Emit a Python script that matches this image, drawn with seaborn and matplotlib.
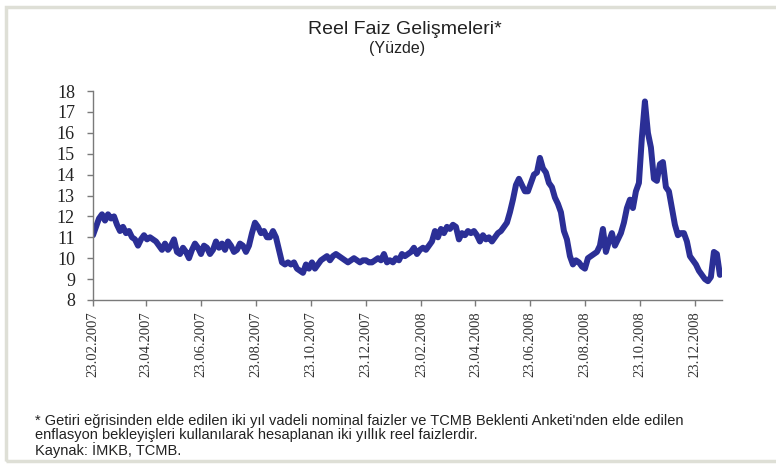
import numpy as np
import pandas as pd
import matplotlib
matplotlib.use("Agg")
import matplotlib.pyplot as plt
import matplotlib.dates as mdates
from matplotlib.patches import Rectangle
import seaborn as sns

# ---- data ----
start_date = "2007-02-23"
sample_step = "80h"  # approx. spacing of the readings
reel_faiz = [
    11.1, 11.5, 11.9, 12.1, 11.8, 12.1, 11.9, 12.0, 11.6, 11.3,
    11.5, 11.2, 11.3, 11.0, 10.9, 10.6, 10.9, 11.1, 10.9, 11.0,
    10.9, 10.8, 10.6, 10.4, 10.7, 10.4, 10.6, 10.9, 10.3, 10.2,
    10.5, 10.3, 10.0, 10.4, 10.7, 10.5, 10.2, 10.6, 10.5, 10.2,
    10.4, 10.8, 10.5, 10.7, 10.4, 10.8, 10.6, 10.3, 10.4, 10.7,
    10.6, 10.3, 10.6, 11.2, 11.7, 11.5, 11.2, 11.3, 11.0, 11.0,
    11.3, 11.0, 10.4, 9.8, 9.7, 9.8, 9.7, 9.8, 9.5, 9.4,
    9.3, 9.7, 9.5, 9.8, 9.5, 9.7, 9.9, 10.0, 10.1, 9.9,
    10.1, 10.2, 10.1, 10.0, 9.9, 9.8, 9.9, 10.0, 9.9, 9.8,
    9.9, 9.9, 9.8, 9.8, 9.9, 10.0, 9.9, 10.2, 9.8, 9.9,
    9.8, 10.0, 9.9, 10.2, 10.1, 10.2, 10.3, 10.5, 10.2, 10.4,
    10.5, 10.4, 10.6, 10.8, 11.3, 11.0, 11.4, 11.2, 11.5, 11.4,
    11.6, 11.5, 10.9, 11.2, 11.1, 11.3, 11.2, 11.3, 11.1, 10.8,
    11.1, 10.9, 11.0, 10.8, 11.0, 11.2, 11.3, 11.5, 11.7, 12.2,
    12.8, 13.5, 13.8, 13.5, 13.2, 13.2, 13.6, 14.0, 14.1, 14.8,
    14.3, 14.1, 13.6, 13.4, 12.9, 12.6, 12.2, 11.3, 10.9, 10.1,
    9.7, 9.9, 9.8, 9.6, 9.5, 10.0, 10.1, 10.2, 10.3, 10.6,
    11.4, 10.3, 10.8, 11.2, 10.6, 10.9, 11.2, 11.7, 12.4, 12.8,
    12.4, 13.2, 13.6, 15.8, 17.5, 16.0, 15.3, 13.8, 13.7, 14.5,
    14.6, 13.4, 13.2, 12.4, 11.6, 11.1, 11.2, 11.2, 10.8, 10.1,
    9.9, 9.7, 9.4, 9.2, 9.0, 8.9, 9.1, 10.3, 10.2, 9.2,
]
tick_dates = ["2007-02-23", "2007-04-23", "2007-06-23", "2007-08-23",
              "2007-10-23", "2007-12-23", "2008-02-23", "2008-04-23",
              "2008-06-23", "2008-08-23", "2008-10-23", "2008-12-23"]
y_ticks = [8, 9, 10, 11, 12, 13, 14, 15, 16, 17, 18]

title = "Reel Faiz Gelişmeleri*"
subtitle = "(Yüzde)"
footnote = ("* Getiri eğrisinden elde edilen iki yıl vadeli nominal faizler ve TCMB Beklenti Anketi'nden elde edilen\n"
            "enflasyon bekleyişleri kullanılarak hesaplanan iki yıllık reel faizlerdir.\n"
            "Kaynak: İMKB, TCMB.")

dates = pd.date_range(start=start_date, periods=len(reel_faiz), freq=sample_step)
df = pd.DataFrame({"Tarih": dates, "Reel faiz": reel_faiz})

# ---- figure ----
sns.set_theme(style="ticks")
plt.rcParams["font.family"] = ["Liberation Sans", "DejaVu Sans"]

fig = plt.figure(figsize=(7.76, 4.68), dpi=100)
fig.patch.set_facecolor("white")
ax = fig.add_axes([93 / 776, 1 - 300 / 468, (722 - 93) / 776, (300 - 91) / 468])

sns.lineplot(data=df, x="Tarih", y="Reel faiz", ax=ax, color="#2B2F96",
             linewidth=4.3, solid_joinstyle="round", solid_capstyle="round")

ax.set_ylim(8, 18)
ax.set_xlim(pd.Timestamp(start_date), pd.Timestamp("2009-01-22"))
ax.set_yticks(y_ticks)
ax.set_yticklabels([str(v) for v in y_ticks], fontfamily="Liberation Serif",
                   fontsize=13, color="#222222")
tks = pd.to_datetime(tick_dates)
ax.set_xticks(tks)
ax.set_xticklabels([t.strftime("%d.%m.%Y") for t in tks], rotation=90,
                   fontfamily="Liberation Serif", fontsize=10.5, color="#333333")
ax.set_xlabel("")
ax.set_ylabel("")
for s in ["top", "right"]:
    ax.spines[s].set_visible(False)
for s in ["left", "bottom"]:
    ax.spines[s].set_color("#7a7a7a")
    ax.spines[s].set_linewidth(1.0)
ax.tick_params(axis="both", colors="#7a7a7a", length=4, width=1.0)
ax.tick_params(axis="y", labelcolor="#222222", pad=9)
ax.tick_params(axis="x", labelcolor="#333333", pad=4)
ax.set_facecolor("white")

fig.text(405 / 776, 1 - 29 / 468, title, ha="center", va="center",
         fontsize=14, color="#222222")
fig.text(397 / 776, 1 - 49 / 468, subtitle, ha="center", va="center",
         fontsize=11.5, color="#222222")
fig.text(35 / 776, 1 - 414 / 468, footnote, ha="left", va="top",
         fontsize=10.5, color="#222222", linespacing=1.0)

fig.patches.append(Rectangle((6 / 776, 7 / 468), 1.2, 1 - 14 / 468,
                             transform=fig.transFigure, fill=False,
                             edgecolor="#dedfd6", linewidth=2.5))

fig.savefig("out.png", dpi=100, facecolor="white")
